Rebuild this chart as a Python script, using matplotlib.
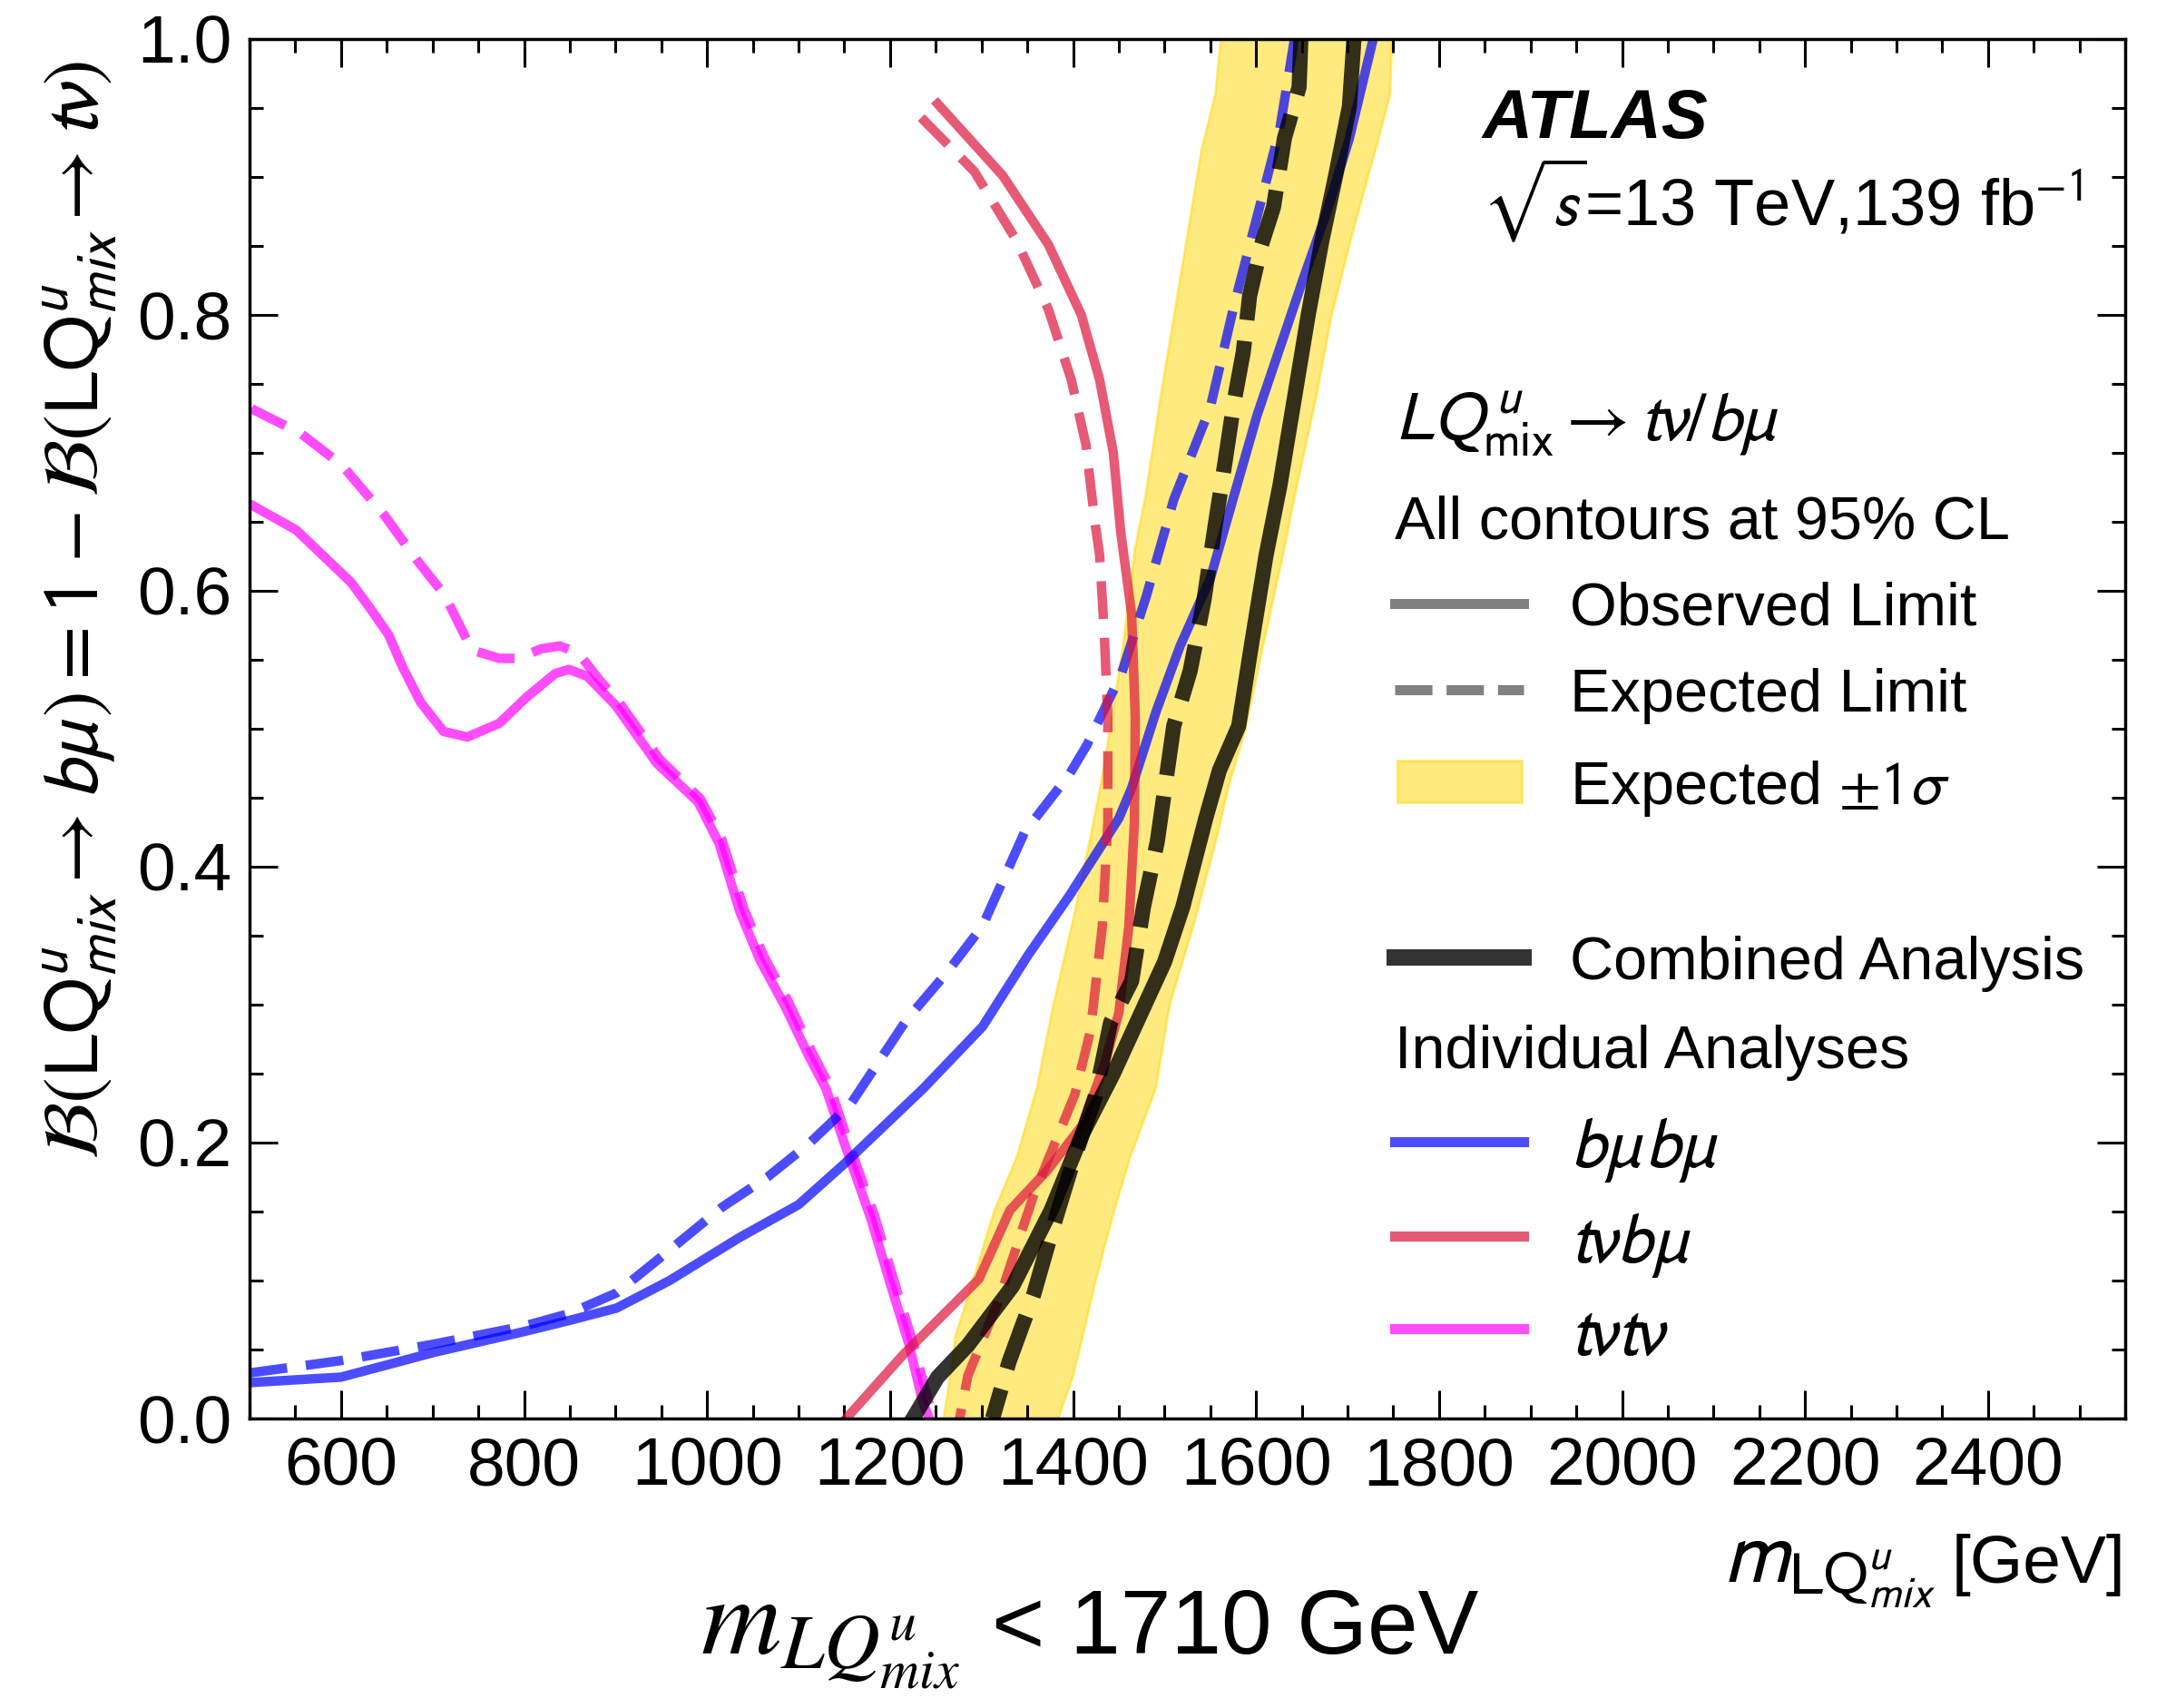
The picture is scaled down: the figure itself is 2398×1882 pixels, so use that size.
import matplotlib
matplotlib.use("Agg")
import matplotlib.pyplot as plt
from matplotlib.ticker import MultipleLocator, FormatStrFormatter
from matplotlib.patches import Rectangle

plt.rcParams['font.family'] = ['Liberation Sans', 'DejaVu Sans']
plt.rcParams['mathtext.fontset'] = 'stixsans'

# t nu t nu (magenta)
tvtv_obs_m = [500, 551, 611, 631, 652, 667, 687, 712, 738, 773, 803, 834, 849, 869, 900, 945, 990,
              1013, 1036, 1058, 1085, 1111, 1130, 1149, 1179, 1202, 1221, 1236, 1243]
tvtv_obs_b = [0.663, 0.644, 0.606, 0.588, 0.568, 0.545, 0.519, 0.498, 0.494, 0.504, 0.523, 0.540, 0.543,
              0.538, 0.517, 0.475, 0.447, 0.417, 0.367, 0.332, 0.299, 0.263, 0.239, 0.2015, 0.145, 0.094,
              0.053, 0.011, 0.0]
tvtv_exp_m = [502, 556, 601, 647, 682, 713, 743, 773, 793, 819, 839, 859, 884, 904, 948, 993, 1016,
              1040, 1062, 1089, 1115, 1134, 1153, 1183, 1206, 1225, 1242, 1249]
tvtv_exp_b = [0.732, 0.714, 0.691, 0.655, 0.623, 0.597, 0.557, 0.551, 0.551, 0.558, 0.560, 0.555, 0.534,
              0.519, 0.478, 0.449, 0.420, 0.370, 0.335, 0.302, 0.265, 0.241, 0.203, 0.147, 0.096, 0.055,
              0.012, 0.0]

# b mu b mu (blue)
bmbm_obs_m = [500, 600, 702, 800, 849, 901, 959, 1035, 1100, 1149, 1236, 1301, 1351, 1396, 1450, 1464,
              1491, 1517, 1550, 1601, 1652, 1677, 1702, 1728]
bmbm_obs_b = [0.026, 0.030, 0.048, 0.063, 0.071, 0.080, 0.100, 0.131, 0.155, 0.184, 0.239, 0.284, 0.336,
              0.379, 0.435, 0.457, 0.513, 0.560, 0.609, 0.727, 0.827, 0.874, 0.928, 1.0]
bmbm_exp_m = [500, 600, 702, 800, 849, 901, 959, 1016, 1066, 1111, 1157, 1218, 1263, 1301, 1347, 1396,
              1415, 1453, 1480, 1510, 1550, 1576, 1601, 1626, 1642]
bmbm_exp_b = [0.033, 0.042, 0.054, 0.067, 0.076, 0.091, 0.122, 0.153, 0.175, 0.199, 0.228, 0.289, 0.324,
              0.357, 0.425, 0.467, 0.488, 0.540, 0.596, 0.666, 0.733, 0.807, 0.871, 0.935, 1.0]

# t nu b mu (red)
tvbm_obs_m = [1252, 1323, 1373, 1409, 1429, 1444, 1452, 1464, 1468, 1467, 1461, 1450, 1434, 1410, 1372,
              1331, 1297, 1214, 1152]
tvbm_obs_b = [0.953, 0.901, 0.851, 0.800, 0.753, 0.700, 0.643, 0.583, 0.508, 0.432, 0.357, 0.294, 0.256,
              0.2125, 0.180, 0.151, 0.101, 0.046, 0.0]
tvbm_exp_m = [1234, 1292, 1338, 1373, 1398, 1414, 1424, 1429, 1434, 1438, 1438, 1432, 1419, 1402, 1357,
              1319, 1285, 1276]
tvbm_exp_b = [0.943, 0.904, 0.854, 0.804, 0.753, 0.706, 0.649, 0.626, 0.5705, 0.508, 0.432, 0.357, 0.281,
              0.235, 0.162, 0.086, 0.031, 0.0]

# combined (black)
comb_obs_m = [1707, 1702, 1687, 1672, 1657, 1642, 1626, 1611, 1596, 1581, 1560, 1545, 1520, 1500, 1482,
              1444, 1410, 1376, 1334, 1285, 1252, 1225]
comb_obs_b = [1.0, 0.951, 0.901, 0.854, 0.800, 0.740, 0.676, 0.626, 0.565, 0.502, 0.470, 0.435, 0.371,
              0.331, 0.305, 0.250, 0.206, 0.151, 0.096, 0.053, 0.030, 0.0]
comb_exp_m = [1649, 1647, 1631, 1619, 1606, 1593, 1586, 1576, 1566, 1555, 1543, 1528, 1510, 1492, 1477,
              1464, 1441, 1424, 1399, 1376, 1357, 1330, 1312]
comb_exp_b = [1.0, 0.965, 0.928, 0.878, 0.851, 0.814, 0.773, 0.737, 0.693, 0.646, 0.593, 0.542, 0.502,
              0.418, 0.371, 0.317, 0.287, 0.233, 0.184, 0.134, 0.090, 0.041, 0.0]

# expected +-1 sigma band of the combination
band_b = [0.0, 0.03, 0.06, 0.10, 0.15, 0.19, 0.24, 0.30, 0.36, 0.42, 0.46, 0.50, 0.56, 0.63, 0.67, 0.74,
          0.80, 0.86, 0.92, 0.96, 1.0]
band_lo = [1258, 1265, 1271, 1290, 1313, 1338, 1360, 1378, 1399, 1418, 1430, 1440, 1454, 1467, 1479, 1495,
           1510, 1525, 1540, 1555, 1561]
band_hi = [1383, 1399, 1410, 1424, 1444, 1462, 1490, 1505, 1532, 1556, 1570, 1588, 1607, 1630, 1642, 1665,
           1682, 1705, 1730, 1746, 1748]

blue = '#0000ff'
red = '#dc143c'
magenta = '#ff00ff'
gold = '#ffd700'
fs = 48
lw_c = 7.5
lw_k = 12
dash = (4, 2)

fig = plt.figure(figsize=(23.98, 18.82), dpi=100)
ax = fig.add_axes([0.1147, 0.1695, 0.8620, 0.8077])

ax.fill_betweenx(band_b, band_lo, band_hi, facecolor=gold, alpha=0.5, edgecolor=gold, lw=2, zorder=1)

ax.plot(tvtv_obs_m, tvtv_obs_b, color=magenta, alpha=0.7, lw=lw_c, zorder=2)
ax.plot(tvtv_exp_m, tvtv_exp_b, color=magenta, alpha=0.7, lw=lw_c, dashes=dash, zorder=2)
ax.plot(bmbm_obs_m, bmbm_obs_b, color=blue, alpha=0.7, lw=lw_c, zorder=2)
ax.plot(bmbm_exp_m, bmbm_exp_b, color=blue, alpha=0.7, lw=lw_c, dashes=dash, zorder=2)
ax.plot(tvbm_obs_m, tvbm_obs_b, color=red, alpha=0.7, lw=lw_c, zorder=2)
ax.plot(tvbm_exp_m, tvbm_exp_b, color=red, alpha=0.7, lw=lw_c, dashes=dash, zorder=2)
ax.plot(comb_obs_m, comb_obs_b, color='black', alpha=0.8, lw=lw_k, zorder=3)
ax.plot(comb_exp_m, comb_exp_b, color='black', alpha=0.8, lw=lw_k, dashes=(3.7, 1.4), zorder=3)

ax.set_xlim(500, 2550)
ax.set_ylim(0, 1)
ax.xaxis.set_major_locator(MultipleLocator(200))
ax.xaxis.set_minor_locator(MultipleLocator(50))
ax.yaxis.set_major_locator(MultipleLocator(0.2))
ax.yaxis.set_minor_locator(MultipleLocator(0.05))
ax.yaxis.set_major_formatter(FormatStrFormatter('%.1f'))
ax.tick_params(which='both', direction='in', top=True, right=True, width=2.2, labelsize=54)
ax.tick_params(which='major', length=22, pad=14)
ax.tick_params(which='minor', length=11)
for s in ax.spines.values():
    s.set_linewidth(2.5)

# x axis title: large mass symbol, then the unit
ax.text(1.0, -0.119, "[GeV]", transform=ax.transAxes, fontsize=54, ha='right', va='baseline')
ax.text(0.899, -0.119, r"$m_{\mathrm{LQ}^{u}_{mix}}$", transform=ax.transAxes, fontsize=70,
        ha='right', va='baseline')
ax.set_ylabel(r"$\mathcal{B}(\mathrm{LQ}^{u}_{mix}\rightarrow b\mu) = 1 - \mathcal{B}(\mathrm{LQ}^{u}_{mix}\rightarrow t\nu)$",
              fontsize=62, va='baseline')
ax.yaxis.set_label_coords(-0.080, 0.586)

# ATLAS label
ax.text(0.657, 0.928, "ATLAS", transform=ax.transAxes, fontsize=55, fontweight='bold',
        fontstyle='italic', va='baseline')
ax.text(0.657, 0.865, r"$\sqrt{s}$=13 TeV,139 fb$^{-1}$", transform=ax.transAxes, fontsize=52,
        va='baseline')

# legend block
tx = 0.6105
lx = [0.6105, 0.679]
gx = 0.704
ax.text(tx, 0.709, r"$LQ^{u}_{\mathrm{mix}}\rightarrow t\nu/b\mu$", transform=ax.transAxes,
        fontsize=55, va='baseline')
ax.text(tx, 0.638, "All contours at 95% CL", transform=ax.transAxes, fontsize=fs, va='baseline')

ax.plot(lx, [0.591, 0.591], transform=ax.transAxes, color='gray', lw=8)
ax.text(gx, 0.591, "Observed Limit", transform=ax.transAxes, fontsize=fs, va='center_baseline')
ax.plot(lx, [0.528, 0.528], transform=ax.transAxes, color='gray', lw=8, dashes=(3.7, 1.4))
ax.text(gx, 0.528, "Expected Limit", transform=ax.transAxes, fontsize=fs, va='center_baseline')
ax.add_patch(Rectangle((0.612, 0.4467), 0.066, 0.0303, transform=ax.transAxes,
                       facecolor=gold, alpha=0.5, edgecolor=gold, lw=2))
ax.text(gx, 0.462, r"Expected $\pm1\sigma$", transform=ax.transAxes, fontsize=fs, va='center_baseline')

ax.plot(lx, [0.334, 0.334], transform=ax.transAxes, color='black', alpha=0.8, lw=13)
ax.text(gx, 0.334, "Combined Analysis", transform=ax.transAxes, fontsize=fs, va='center_baseline')
ax.text(tx, 0.254, "Individual Analyses", transform=ax.transAxes, fontsize=fs, va='baseline')
ax.plot(lx, [0.2007, 0.2007], transform=ax.transAxes, color=blue, alpha=0.7, lw=8)
ax.text(gx, 0.2007, r"$b\mu b\mu$", transform=ax.transAxes, fontsize=56, va='center_baseline')
ax.plot(lx, [0.1322, 0.1322], transform=ax.transAxes, color=red, alpha=0.7, lw=8)
ax.text(gx, 0.1322, r"$t\nu b\mu$", transform=ax.transAxes, fontsize=56, va='center_baseline')
ax.plot(lx, [0.0651, 0.0651], transform=ax.transAxes, color=magenta, alpha=0.7, lw=8)
ax.text(gx, 0.0651, r"$t\nu t\nu$", transform=ax.transAxes, fontsize=56, va='center_baseline')

# bottom annotation
fig.text(0.322, 0.032, r"$m_{LQ^{u}_{mix}}$", fontsize=88, math_fontfamily='stix', va='baseline')
fig.text(0.456, 0.032, "< 1710 GeV", fontsize=72, va='baseline')

fig.savefig("out.png", dpi=100)
